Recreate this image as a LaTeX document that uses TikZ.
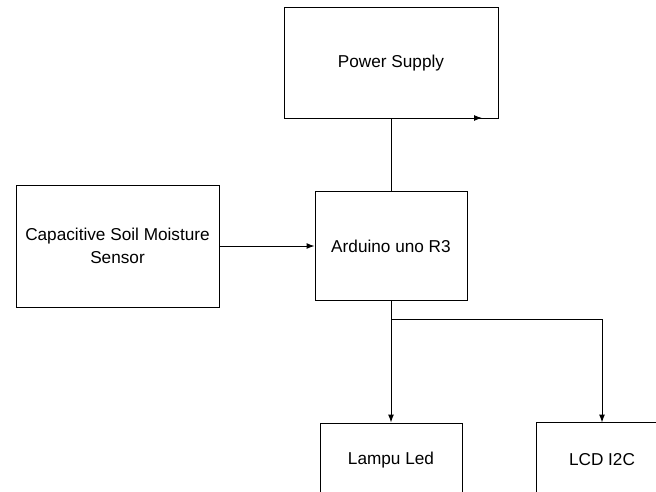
\documentclass[tikz,border=0pt]{standalone}
\usepackage{fontspec}
\setmainfont{Liberation Sans}
\usetikzlibrary{arrows.meta}
\begin{document}
\begin{tikzpicture}[x=0.75pt,y=-0.75pt,
  blk/.style={draw=black,line width=0.75pt,rectangle,inner sep=0pt,align=center,
    font=\fontsize{12.9pt}{17pt}\selectfont},
  conn/.style={draw=black,line width=0.75pt},
  arr/.style={conn,-{Latex[length=6pt,width=4.5pt]}}]
\useasboundingbox (0,0) rectangle (656,492);
\clip (0,0) rectangle (656,492);
\node[blk,minimum width=160.5pt,minimum height=82.5pt] (ps) at (391,63) {Power Supply};
\node[blk,minimum width=114pt,minimum height=81.75pt] (ard) at (391,246) {Arduino uno R3};
\node[blk,minimum width=152.25pt,minimum height=91.5pt] (sen) at (117.5,246) {Capacitive Soil Moisture\\Sensor};
\node[blk,minimum width=106.5pt,minimum height=55.5pt] (led) at (391,460) {Lampu Led};
\node[blk,draw=none,minimum width=97.5pt,minimum height=55.5pt] (lcd) at (602,460) {LCD I2C};
\draw[conn] (lcd.south west) -- (lcd.north west) -- (lcd.north east);
\coordinate (pstip) at (482,118);
\coordinate (j) at (391,319);
\draw[arr] (ard.north) |- (pstip);
\draw[arr] (sen.east) -- (ard.west);
\draw[conn] (ard.south) -- (j);
\draw[arr] (j) -- (led.north);
\draw[arr] (j) -| (lcd.north);
\end{tikzpicture}
\end{document}
